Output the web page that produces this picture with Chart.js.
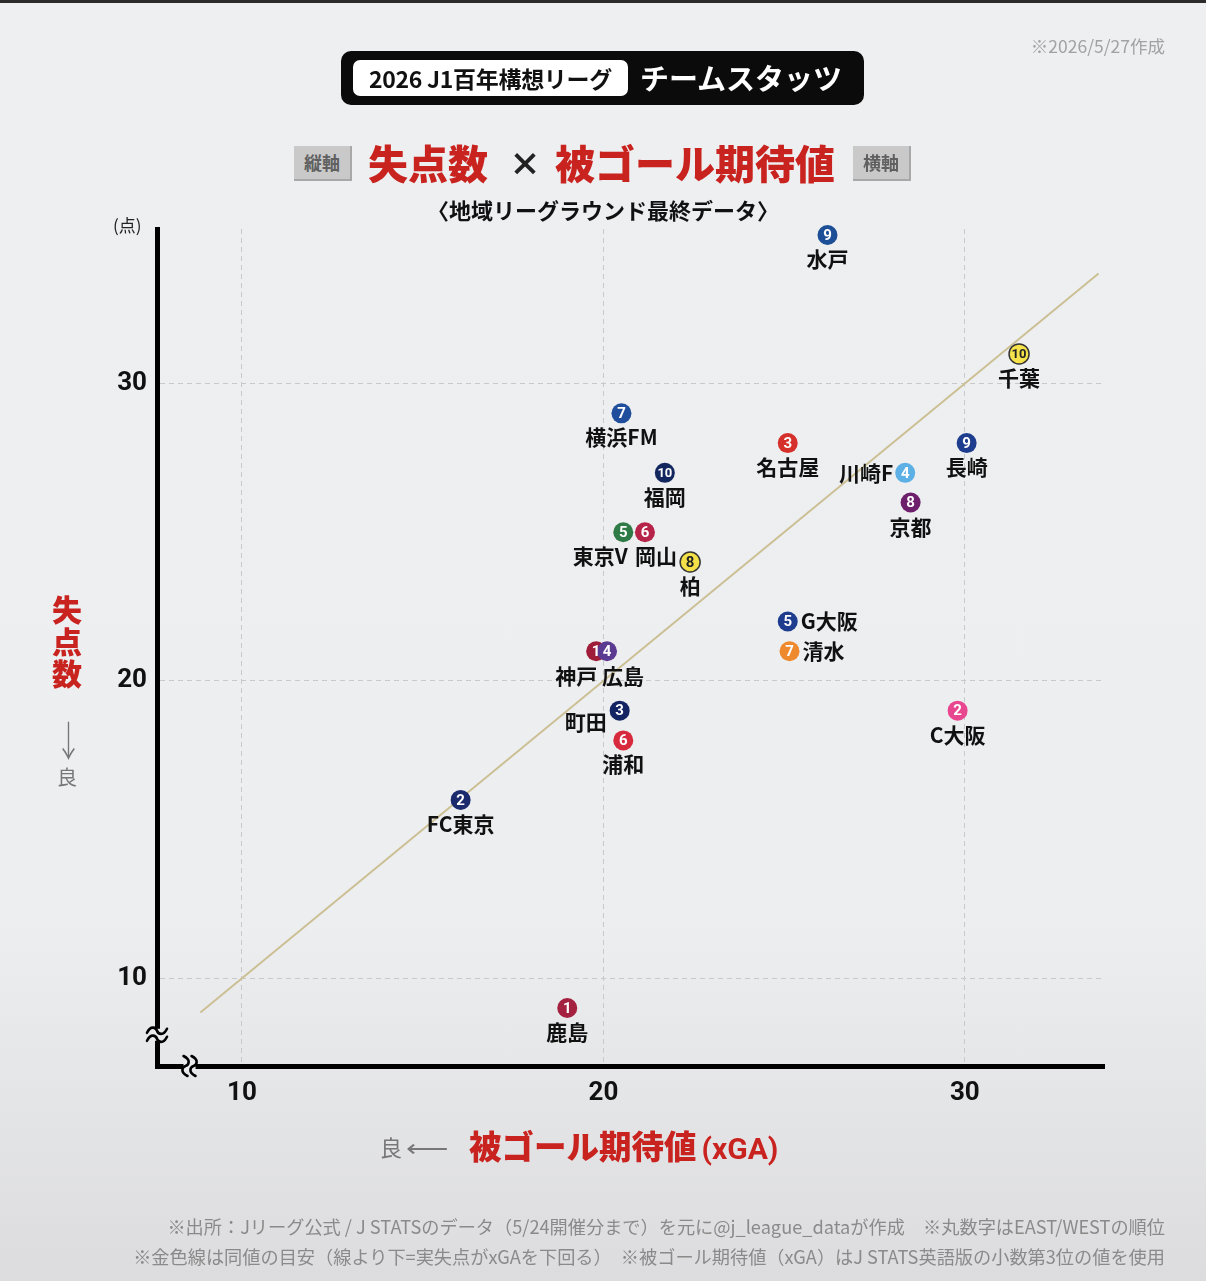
<!DOCTYPE html>
<html lang="ja">
<head>
<meta charset="utf-8">
<script src="https://cdn.jsdelivr.net/npm/chart.js@4.4.1/dist/chart.umd.min.js"></script>
<style>
  body { margin: 0; }
  #wrap {
    position: relative; width: 1206px; height: 1281px; overflow: hidden;
    background: linear-gradient(180deg, #eeeff1 0%, #edeef0 72%, #dcdcde 100%);
    font-family: "Noto Sans CJK JP", "Noto Sans", sans-serif;
  }
  #topline { position: absolute; left: 0; top: 0; width: 1206px; height: 3px; background: #2b2b2b; }
  canvas { position: absolute; left: 0; top: 0; }
  .abs { position: absolute; white-space: nowrap; }
  #date { right: 41px; top: 33px; font-size: 17.5px; color: #a2a2a2; }
  #badge { left: 341px; top: 51px; width: 523px; height: 54px; background: #0b0b0b; border-radius: 10px; }
  #badge .inner { position: absolute; left: 12px; top: 9px; width: 275px; height: 36px; background: #fff; border-radius: 7px;
    font-weight: 700; font-size: 23px; line-height: 36px; text-align: center; color: #111; letter-spacing: -0.3px; }
  #badge .right { position: absolute; left: 290px; top: 0; width: 220px; line-height: 52px; text-align: center;
    color: #fff; font-weight: 700; font-size: 29px; }
  .axisbox { width: 58px; height: 35px; background: #c9c9c9; border-right: 2px solid #a8a8a8; border-bottom: 2px solid #a8a8a8;
    box-sizing: border-box; font-size: 18px; font-weight: 700; color: #606060; text-align: center; line-height: 33px; }
  .red { color: #c9231f; font-weight: 900; }
  #sub { left: 0; width: 1206px; top: 193px; text-align: center; font-size: 22px; font-weight: 700; color: #111; }
  #unit { left: 113px; top: 212px; font-size: 17px; color: #222; }
  #ytitle { left: 51px; top: 592px; width: 32px; font-size: 30px; line-height: 32px; text-align: center; }
  #yarrow { left: 51px; top: 708px; width: 32px; text-align: center; color: #777; font-size: 36px; line-height: 52px; font-weight: 300;
    transform: scale(0.75, 1.15); transform-origin: 50% 0; }
  #ygood { left: 51px; top: 762px; width: 32px; text-align: center; color: #777; font-size: 20px; }
  #xgood { left: 380px; top: 1130px; font-size: 22px; color: #777; }
  #xgood span { display: inline-block; font-size: 22px; transform: scaleX(1.35); transform-origin: 0 50%; margin-left: 4px; }
  #xtitle { left: 469px; top: 1121px; font-size: 32.5px; }
  #xtitle span { font-family: Roboto, sans-serif; font-size: 30px; font-weight: 700; margin-left: 5px; }
  .foot { right: 41px; font-size: 18.2px; color: #8a8a8a; }
</style>
</head>
<body>
<div id="wrap">
  <div id="topline"></div>
  <canvas id="chart" width="1206" height="1281"></canvas>
  <div id="date" class="abs">※2026/5/27作成</div>
  <div id="badge" class="abs">
    <div class="inner">2026 J1百年構想リーグ</div>
    <div class="right">チームスタッツ</div>
  </div>
  <div class="abs axisbox" style="left:294px; top:146px;">縦軸</div>
  <div class="abs red" style="left:368px; top:133px; font-size:40px;">失点数</div>
  <div class="abs" style="left:509px; top:139px; font-size:32px; font-weight:900; color:#222;">×</div>
  <div class="abs red" style="left:555px; top:133px; font-size:40px;">被ゴール期待値</div>
  <div class="abs axisbox" style="left:853px; top:146px;">横軸</div>
  <div id="sub" class="abs">〈地域リーグラウンド最終データ〉</div>
  <div id="unit" class="abs">(点)</div>
  <div id="ytitle" class="abs red">失<br>点<br>数</div>
  <div id="yarrow" class="abs">↓</div>
  <div id="ygood" class="abs">良</div>
  <div id="xgood" class="abs">良<span>⟵</span></div>
  <div id="xtitle" class="abs red">被ゴール期待値<span>(xGA)</span></div>
  <div class="abs foot" style="top:1213px;">※出所：Jリーグ公式 / J STATSのデータ（5/24開催分まで）を元に@j_league_dataが作成　※丸数字はEAST/WESTの順位</div>
  <div class="abs foot" style="top:1243px;">※金色線は同値の目安（線より下=実失点がxGAを下回る）　※被ゴール期待値（xGA）はJ STATS英語版の小数第3位の値を使用</div>
</div>
<script>
// data
const teams = ['水戸', '千葉', '横浜FM', '名古屋', '長崎', '福岡', '川崎F', '京都', '東京V', '岡山',
  '柏', 'G大阪', '清水', '神戸', '広島', '町田', '浦和', 'C大阪', 'FC東京', '鹿島'];
const ranks = [9, 10, 7, 3, 9, 10, 4, 8, 5, 6, 8, 5, 7, 1, 4, 3, 6, 2, 2, 1];
const xga = [26.2, 31.5, 20.5, 25.1, 30.05, 21.7, 28.35, 28.5, 20.55, 21.15,
  22.4, 25.1, 25.15, 19.8, 20.1, 20.45, 20.55, 29.8, 16.05, 19.0];
const goalsAgainst = [35, 31, 29, 28, 28, 27, 27, 26, 25, 25, 24, 22, 21, 21, 21, 19, 18, 19, 16, 9];
const parityLine = [8.85, 33.7];
const xTicks = [10, 20, 30];
const yTicks = [10, 20, 30];

// styles
const teamColor = {
  '水戸': '#1d4f97', '千葉': '#f6e34c', '横浜FM': '#1f4e9d', '名古屋': '#d5302c', '長崎': '#1e3d8e',
  '福岡': '#13275f', '川崎F': '#5cb0e6', '京都': '#6d1f6c', '東京V': '#2f7b47', '岡山': '#b72449',
  '柏': '#f4e14a', 'G大阪': '#1e3d8e', '清水': '#ee8a2d', '神戸': '#9e1c37', '広島': '#5b3a92',
  '町田': '#122461', '浦和': '#d72a3c', 'C大阪': '#e8468f', 'FC東京': '#1a2a6c', '鹿島': '#a4213f'
};
const yellowTeams = ['千葉', '柏'];
const labelPos = {
  '東京V': { dx: -23, dy: 24, align: 'center' },
  '岡山': { dx: 11, dy: 24, align: 'center' },
  '神戸': { dx: -20, dy: 25, align: 'center' },
  '広島': { dx: 16, dy: 25, align: 'center' },
  '町田': { dx: -13, dy: 11, align: 'right' },
  '川崎F': { dx: -12, dy: 0, align: 'right' },
  'G大阪': { dx: 13, dy: 0, align: 'left' },
  '清水': { dx: 13, dy: 0, align: 'left' }
};

function drawTilde(ctx) {
  ctx.beginPath();
  ctx.moveTo(-10, 2);
  ctx.bezierCurveTo(-6, -6, -1, -3, 0, 0);
  ctx.bezierCurveTo(1, 3, 6, 6, 10, -2);
  ctx.stroke();
}

function drawBreak(ctx, cx, cy, rot) {
  ctx.save();
  ctx.translate(cx, cy);
  ctx.rotate(rot);
  ctx.fillStyle = '#ebecee';
  ctx.fillRect(-5, -6, 10, 12);
  ctx.strokeStyle = '#000';
  ctx.lineWidth = 2.6;
  ctx.lineCap = 'round';
  ctx.save(); ctx.translate(0, -4); drawTilde(ctx); ctx.restore();
  ctx.save(); ctx.translate(0, 4); drawTilde(ctx); ctx.restore();
  ctx.restore();
}

const labelPlugin = {
  id: 'teamLabels',
  afterDatasetsDraw(chart) {
    const ctx = chart.ctx;
    const meta = chart.getDatasetMeta(1);
    ctx.save();
    meta.data.forEach((pt, i) => {
      const yellow = yellowTeams.includes(teams[i]);
      ctx.fillStyle = yellow ? '#222' : '#fff';
      ctx.font = 'bold ' + (ranks[i] >= 10 ? 13 : 15) + 'px Roboto';
      ctx.textAlign = 'center';
      ctx.textBaseline = 'middle';
      ctx.fillText(String(ranks[i]), pt.x, pt.y + 1);
    });
    meta.data.forEach((pt, i) => {
      const p = labelPos[teams[i]] || { dx: 0, dy: 24, align: 'center' };
      ctx.fillStyle = '#111';
      ctx.font = 'bold 21px "Noto Sans CJK JP"';
      ctx.textAlign = p.align;
      ctx.textBaseline = 'middle';
      ctx.fillText(teams[i], pt.x + p.dx, pt.y + p.dy);
    });
    ctx.restore();
  },
  afterDraw(chart) {
    const { ctx, chartArea, scales } = chart;
    drawBreak(ctx, chartArea.left, scales.y.getPixelForValue(8.1), 0);
    drawBreak(ctx, scales.x.getPixelForValue(8.55), chartArea.bottom, Math.PI / 2);
  }
};

new Chart(document.getElementById('chart'), {
  type: 'scatter',
  data: {
    datasets: [{
      data: parityLine.map(v => ({ x: v, y: v })),
      showLine: true,
      borderColor: '#cbbf93',
      borderWidth: 2,
      pointRadius: 0,
      order: 2
    }, {
      data: teams.map((t, i) => ({ x: xga[i], y: goalsAgainst[i] })),
      pointRadius: 10,
      pointBackgroundColor: teams.map(t => teamColor[t]),
      pointBorderColor: teams.map(t => yellowTeams.includes(t) ? '#333' : teamColor[t]),
      pointBorderWidth: teams.map(t => yellowTeams.includes(t) ? 1.5 : 0),
      clip: false,
      order: 1
    }]
  },
  options: {
    responsive: false,
    animation: false,
    layout: { padding: { left: 0, top: 229, right: 102, bottom: 0 } },
    plugins: { legend: { display: false }, tooltip: { enabled: false } },
    scales: {
      x: {
        type: 'linear',
        min: 7.65,
        max: 33.85,
        afterBuildTicks: s => { s.ticks = xTicks.map(v => ({ value: v })); },
        afterFit: s => { s.height = 215; },
        grid: { color: '#c9c9c9', lineWidth: 1, drawTicks: false },
        border: { color: '#000', width: 5, dash: [5, 4] },
        ticks: { color: '#111', padding: 12, font: { family: 'Roboto', size: 26, weight: 'bold' } }
      },
      y: {
        type: 'linear',
        min: 7.05,
        max: 35.2,
        afterBuildTicks: s => { s.ticks = yTicks.map(v => ({ value: v })); },
        afterFit: s => { s.width = 157; },
        grid: { color: '#c9c9c9', lineWidth: 1, drawTicks: false },
        border: { color: '#000', width: 5, dash: [5, 4] },
        ticks: { color: '#111', padding: 10, font: { family: 'Roboto', size: 26, weight: 'bold' } }
      }
    }
  },
  plugins: [labelPlugin]
});
</script>
</body>
</html>
